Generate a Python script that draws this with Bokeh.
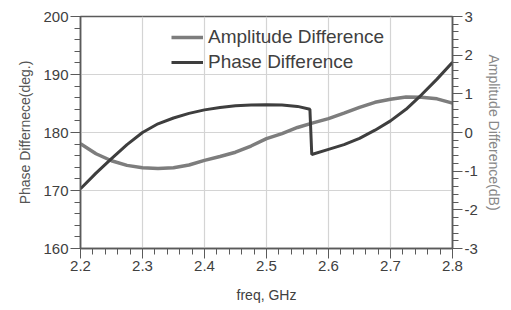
from bokeh.plotting import figure
from bokeh.models import Range1d, LinearAxis, FixedTicker, Legend, LegendItem, PrintfTickFormatter
from bokeh.embed import file_html
from bokeh.resources import INLINE

# Data
amp_freq = [2.2, 2.225, 2.25, 2.275, 2.3, 2.325, 2.35, 2.375, 2.4, 2.425, 2.45, 2.475,
            2.5, 2.525, 2.55, 2.575, 2.6, 2.625, 2.65, 2.675, 2.7, 2.725, 2.75, 2.775, 2.8]
amp_db = [-0.29, -0.55, -0.73, -0.85, -0.91, -0.93, -0.91, -0.84, -0.72, -0.62, -0.51, -0.35,
          -0.16, -0.03, 0.13, 0.25, 0.36, 0.50, 0.65, 0.78, 0.86, 0.92, 0.91, 0.87, 0.76]

phase_freq = [2.2, 2.225, 2.25, 2.275, 2.3, 2.325, 2.35, 2.375, 2.4, 2.425, 2.45, 2.475,
              2.5, 2.525, 2.55, 2.57, 2.573, 2.6, 2.625, 2.65, 2.675, 2.7, 2.725, 2.75, 2.775, 2.8]
phase_deg = [170.3, 173.0, 175.5, 177.9, 180.0, 181.5, 182.5, 183.3, 183.9, 184.3, 184.6, 184.75,
             184.8, 184.75, 184.5, 184.0, 176.2, 177.1, 177.9, 179.0, 180.4, 182.0, 184.0, 186.5, 189.2, 192.1]

x_ticks = [2.2, 2.3, 2.4, 2.5, 2.6, 2.7, 2.8]
y_ticks = [160, 170, 180, 190, 200]
y2_ticks = [-3, -2, -1, 0, 1, 2, 3]

FONT = "Liberation Sans"
AXIS_COL = "#5a5a5a"
TXT_COL = "#404040"

p = figure(frame_width=372, frame_height=232, output_backend="svg", toolbar_location=None,
           x_range=Range1d(2.2, 2.8), y_range=Range1d(160, 200),
           min_border_left=80, min_border_right=45, min_border_top=16, min_border_bottom=52,
           x_axis_label="freq, GHz", y_axis_label="Phase Differnece(deg.)")
p.extra_y_ranges = {"amp": Range1d(-3, 3)}
p.background_fill_color = "white"
p.border_fill_color = "white"
p.outline_line_color = AXIS_COL
p.outline_line_width = 1.5


def minor_list(lo, hi, step, n):
    out = []
    total = int(round((hi - lo) / step * n))
    for i in range(total + 1):
        out.append(round(lo + i * step / n, 6))
    return out


p.xaxis.ticker = FixedTicker(ticks=x_ticks, minor_ticks=minor_list(2.2, 2.8, 0.1, 5))
p.yaxis.ticker = FixedTicker(ticks=y_ticks, minor_ticks=minor_list(160, 200, 10, 5))

r_axis = LinearAxis(y_range_name="amp", axis_label="Amplitude Difference(dB)",
                    ticker=FixedTicker(ticks=y2_ticks, minor_ticks=minor_list(-3, 3, 1, 5)),
                    formatter=PrintfTickFormatter(format="%d"))
p.add_layout(r_axis, "right")

for ax in [p.xaxis[0], p.yaxis[0], r_axis]:
    ax.axis_line_color = AXIS_COL
    ax.axis_line_width = 1.5
    ax.major_tick_line_color = AXIS_COL
    ax.minor_tick_line_color = AXIS_COL
    ax.major_tick_in = 0
    ax.major_tick_out = 10
    ax.minor_tick_in = 0
    ax.minor_tick_out = 6
    ax.major_label_text_font = FONT
    ax.major_label_text_font_size = "15px"
    ax.major_label_text_color = TXT_COL
    ax.axis_label_text_font = FONT
    ax.axis_label_text_font_size = "14px"
    ax.axis_label_text_font_style = "normal"
    ax.major_label_standoff = 2

p.xaxis.axis_label_text_color = TXT_COL
p.yaxis[0].axis_label_text_color = "#555555"
r_axis.axis_label_text_color = "#888888"
p.xaxis.axis_label_standoff = 13
p.yaxis[0].axis_label_standoff = 7
r_axis.axis_label_standoff = 5

p.xgrid.ticker = FixedTicker(ticks=x_ticks)
p.ygrid.ticker = FixedTicker(ticks=y_ticks)
p.xgrid.grid_line_color = "#d4d4d4"
p.ygrid.grid_line_color = "#d4d4d4"
p.xgrid.grid_line_width = 1.2
p.ygrid.grid_line_width = 1.2

r_amp = p.line(amp_freq, amp_db, y_range_name="amp", line_color="#7d7d7d", line_width=3.5)
r_ph = p.line(phase_freq, phase_deg, line_color="#3e3e3e", line_width=3)

legend = Legend(items=[LegendItem(label="Amplitude Difference", renderers=[r_amp]),
                       LegendItem(label="Phase Difference", renderers=[r_ph])],
                location=(91, 175))
legend.background_fill_alpha = 0
legend.border_line_alpha = 0
legend.padding = 0
legend.margin = 0
legend.spacing = 3
legend.glyph_width = 32
legend.label_standoff = 5
legend.label_text_font = FONT
legend.label_text_font_size = "19px"
legend.label_text_color = TXT_COL
p.add_layout(legend, "center")

open("out.html", "w").write(file_html(p, INLINE))
